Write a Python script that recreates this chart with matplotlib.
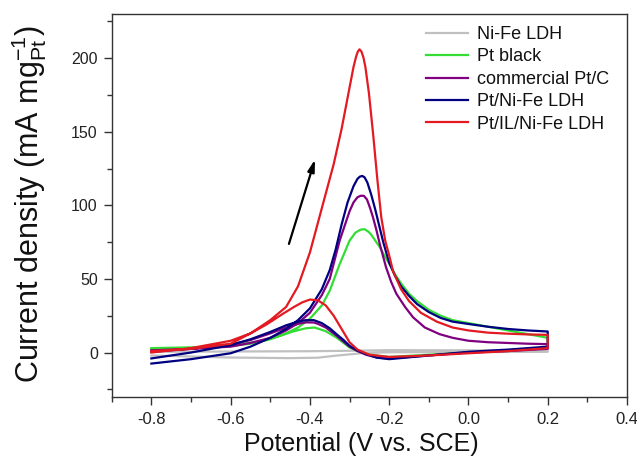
import matplotlib
matplotlib.use("Agg")
import matplotlib.pyplot as plt
from matplotlib.ticker import MultipleLocator

plt.rcParams['font.family'] = ['Liberation Sans', 'DejaVu Sans']
plt.rcParams['mathtext.fontset'] = 'custom'
plt.rcParams['mathtext.rm'] = 'Liberation Sans'
plt.rcParams['mathtext.it'] = 'Liberation Sans'

labels = ["Ni-Fe LDH", "Pt black", "commercial Pt/C", "Pt/Ni-Fe LDH", "Pt/IL/Ni-Fe LDH"]
colors = ["#c0c0c0", "#33dd33", "#800080", "#000080", "#e31a22"]

# ---- Ni-Fe LDH (grey) ----
grey_fwd_x = [-0.8, -0.6, -0.4, -0.3, -0.2, 0.0, 0.2]
grey_fwd_y = [0.5, 0.7, 0.9, 1.2, 1.6, 1.5, 1.5]
grey_rev_x = [0.2, 0.0, -0.2, -0.27, -0.33, -0.38, -0.45, -0.6, -0.8]
grey_rev_y = [0.5, 0.3, 0.2, -0.5, -2.0, -3.5, -3.8, -3.4, -2.0]

# ---- Pt black (green) ----
green_fwd_x = [-0.8, -0.7, -0.6, -0.55, -0.5, -0.46, -0.43, -0.40, -0.37, -0.35, -0.325, -0.30,
               -0.285, -0.272, -0.262, -0.252, -0.245, -0.235, -0.224, -0.21, -0.199, -0.185,
               -0.17, -0.15, -0.13, -0.1, -0.07, -0.04, 0.0, 0.05, 0.1, 0.15, 0.2]
green_fwd_y = [3, 3.5, 4.5, 6, 9, 13, 17, 23, 32, 42, 60, 76,
               81.5, 83.5, 83.8, 82, 80, 76, 71.7, 65, 60, 53,
               47, 40, 35, 29, 25, 22, 20, 17.5, 15, 12.5, 10]
green_rev_x = [0.2, 0.1, 0.0, -0.1, -0.2, -0.25, -0.28, -0.30, -0.333, -0.36, -0.388, -0.41,
               -0.44, -0.48, -0.53, -0.6, -0.7, -0.8]
green_rev_y = [3.5, 1.5, 0, -1.5, -3, -1.5, 1, 3.4, 10.2, 14.5, 17, 16.5,
               14.5, 11, 7.5, 4.5, 3, 2]

# ---- commercial Pt/C (purple) ----
purple_fwd_x = [-0.8, -0.7, -0.6, -0.55, -0.5, -0.46, -0.43, -0.40, -0.37, -0.35, -0.325, -0.30,
                -0.29, -0.28, -0.272, -0.264, -0.256, -0.248, -0.241, -0.232, -0.224, -0.216,
                -0.208, -0.195, -0.182, -0.16, -0.14, -0.11, -0.073, -0.04, 0.0, 0.05, 0.1,
                0.15, 0.2]
purple_fwd_y = [1.5, 2.5, 4, 6.5, 10, 15, 20, 27, 39, 50, 76, 96,
                102, 105.5, 106.5, 106.5, 104, 98, 92, 83, 74, 66,
                58, 48, 40, 31, 24, 17, 12.5, 10, 8, 7, 6.5,
                6, 5.7]
purple_rev_x = [0.2, 0.1, 0.0, -0.1, -0.2, -0.23, -0.258, -0.28, -0.30, -0.333, -0.36, -0.38,
                -0.39, -0.41, -0.43, -0.46, -0.5, -0.55, -0.6, -0.7, -0.8]
purple_rev_y = [2.5, 1, 0, -2, -4, -3.5, -1.5, 1, 4, 11.5, 17, 19.5,
                20.4, 20.5, 19.5, 17, 13, 8.5, 5.5, 2.5, 0.5]

# ---- Pt/Ni-Fe LDH (navy) ----
blue_fwd_x = [-0.8, -0.7, -0.6, -0.55, -0.5, -0.46, -0.43, -0.40, -0.37, -0.35, -0.335, -0.32,
              -0.305, -0.29, -0.28, -0.274, -0.268, -0.262, -0.255, -0.245, -0.235, -0.225,
              -0.215, -0.20, -0.185, -0.17, -0.15, -0.13, -0.1, -0.07, -0.04, 0.0, 0.05, 0.1,
              0.15, 0.2]
blue_fwd_y = [-7.5, -4.5, -0.5, 4, 10, 16, 22, 30, 43, 56, 70, 87,
              102, 113, 118, 119.5, 120, 119, 115.5, 107, 97, 86,
              75, 61, 52, 45, 38.5, 33, 27.5, 23.5, 21, 19.4, 17.5, 16,
              15, 14.3]
blue_rev_x = [0.2, 0.15, 0.1, 0.0, -0.1, -0.2, -0.23, -0.258, -0.28, -0.30, -0.315, -0.333,
              -0.35, -0.37, -0.39, -0.41, -0.43, -0.46, -0.5, -0.55, -0.6, -0.7, -0.8]
blue_rev_y = [4, 3, 2, 0.5, -2, -4.5, -3.5, -1.1, 1.5, 4.6, 8.5, 12.5,
              16.5, 20, 22, 22, 21, 18.5, 14, 9, 5, 0, -4]

# ---- Pt/IL/Ni-Fe LDH (red) ----
red_fwd_x = [-0.8, -0.7, -0.6, -0.55, -0.5, -0.46, -0.43, -0.40, -0.37, -0.34, -0.32, -0.30,
             -0.29, -0.283, -0.279, -0.275, -0.27, -0.265, -0.26, -0.251, -0.24, -0.23, -0.22,
             -0.21, -0.20, -0.19, -0.17, -0.15, -0.12, -0.08, -0.04, 0.0, 0.05, 0.1, 0.15, 0.2]
red_fwd_y = [1, 2.5, 6, 13, 22, 31, 45, 68, 98, 128, 152, 180,
             194, 201.5, 204.5, 206, 204.5, 200.5, 194, 176, 147, 118, 92,
             76, 66, 55, 43, 35, 27, 21, 17, 15, 13.5, 12.8, 12.3, 12]
red_rev_x = [0.2, 0.15, 0.1, 0.0, -0.1, -0.2, -0.25, -0.28, -0.30, -0.32, -0.34, -0.36,
             -0.38, -0.40, -0.42, -0.44, -0.47, -0.51, -0.55, -0.6, -0.7, -0.8]
red_rev_y = [3, 2, 1, -0.5, -2, -3, -1.5, 2, 7, 16, 25, 32,
             35.5, 36, 34, 31, 26, 19, 13, 8, 3, 0]

series = [
    (grey_fwd_x, grey_fwd_y, grey_rev_x, grey_rev_y),
    (green_fwd_x, green_fwd_y, green_rev_x, green_rev_y),
    (purple_fwd_x, purple_fwd_y, purple_rev_x, purple_rev_y),
    (blue_fwd_x, blue_fwd_y, blue_rev_x, blue_rev_y),
    (red_fwd_x, red_fwd_y, red_rev_x, red_rev_y),
]

fig = plt.figure(figsize=(6.37, 4.61), dpi=100)
ax = fig.add_axes([0.1754, 0.1395, 0.8089, 0.8301])

for (fx, fy, rx, ry), lab, col in zip(series, labels, colors):
    ax.plot(list(fx) + list(rx), list(fy) + list(ry), color=col, lw=1.6, label=lab,
            solid_joinstyle='round')

ax.set_xlim(-0.9, 0.4)
ax.set_ylim(-30, 230)
ax.xaxis.set_major_locator(MultipleLocator(0.2))
ax.xaxis.set_minor_locator(MultipleLocator(0.1))
ax.yaxis.set_major_locator(MultipleLocator(50))
ax.yaxis.set_minor_locator(MultipleLocator(25))
ax.tick_params(which='both', direction='out', top=False, right=False,
               colors='#333333', labelcolor='#222222', width=1.0)
ax.tick_params(axis='x', labelsize=12, pad=5)
ax.tick_params(axis='y', labelsize=11.5, pad=4)
ax.tick_params(which='major', length=6)
ax.tick_params(which='minor', length=3.5)
for s in ax.spines.values():
    s.set_linewidth(1.0)
    s.set_color('#333333')
ax.xaxis.set_major_formatter(plt.FuncFormatter(lambda v, p: f"{v:.1f}"))

ax.set_xlabel("Potential (V vs. SCE)", fontsize=18, color='#111111')
ax.set_ylabel(r"Current density (mA mg$_{\mathrm{Pt}}^{-1}$)", fontsize=22, color='#111111')
ax.xaxis.set_label_coords(0.4838, -0.092, transform=ax.transAxes)
ax.yaxis.set_label_coords(-0.1227, 0.5035, transform=ax.transAxes)

ax.annotate("", xy=(-0.385, 133), xytext=(-0.455, 72),
            arrowprops=dict(arrowstyle='-|>,head_length=0.7,head_width=0.2', color='black', lw=1.6))

leg = ax.legend(loc='upper left', bbox_to_anchor=(426 / 637, 1 - 26 / 461),
                bbox_transform=fig.transFigure, frameon=False, fontsize=13,
                handlelength=2.35, handletextpad=0.45, labelspacing=0.3,
                borderaxespad=0, borderpad=0)
for t in leg.get_texts():
    t.set_color('#111111')

fig.savefig("out.png", dpi=100)
